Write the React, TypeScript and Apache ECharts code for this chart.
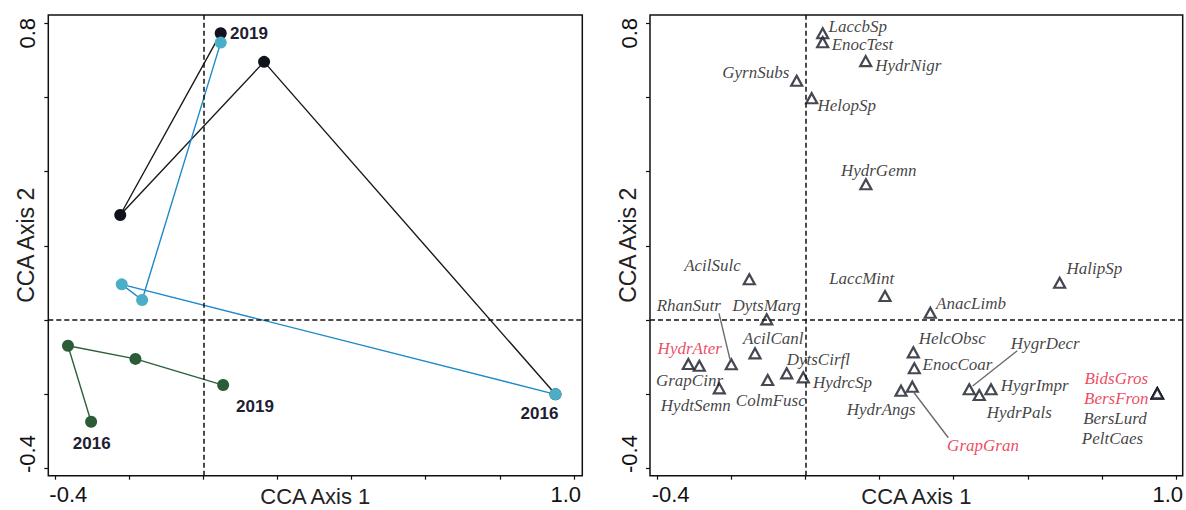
import React, { useEffect, useRef } from 'react';
import * as echarts from 'echarts';

// ---------- Data ----------
const years = ['2016', '2017', '2018', '2019'];
// black trajectory
const siteAAxis1 = [0.95, 0.164, -0.224, 0.047];
const siteAAxis2 = [-0.2005, 0.696, 0.283, 0.773];
// cyan trajectory
const siteBAxis1 = [0.95, -0.22, -0.165, 0.047];
const siteBAxis2 = [-0.2005, 0.096, 0.054, 0.748];
// green trajectory
const siteCAxis1 = [-0.3026, -0.365, -0.183, 0.0535];
const siteCAxis2 = [-0.2745, -0.0695, -0.105, -0.1755];

const species = [
  'LaccbSp', 'EnocTest', 'HydrNigr', 'GyrnSubs', 'HelopSp', 'HydrGemn', 'AcilSulc', 'LaccMint',
  'HalipSp', 'AnacLimb', 'DytsMarg', 'AcilCanl', 'RhanSutr', 'HydrAter', 'GrapCinr', 'HydtSemn',
  'ColmFusc', 'DytsCirfl', 'HydrcSp', 'HydrAngs', 'GrapGran', 'HelcObsc', 'EnocCoar', 'HygrDecr',
  'HydrPals', 'HygrImpr', 'BidsGros', 'BersFron', 'BersLurd', 'PeltCaes',
];
const speciesAxis1 = [
  0.0464, 0.0464, 0.1625, -0.0238, 0.0167, 0.163, -0.1517, 0.2146,
  0.686, 0.3368, -0.1047, -0.1363, -0.2003, -0.3163, -0.2866, -0.2327,
  -0.102, -0.0507, -0.006, 0.2578, 0.2883, 0.291, 0.2937, 0.442,
  0.469, 0.5007, 0.9495, 0.9495, 0.9495, 0.9495,
];
const speciesAxis2 = [
  0.773, 0.749, 0.698, 0.645, 0.598, 0.366, 0.1096, 0.0646,
  0.1004, 0.0195, 0.0017, -0.09, -0.1196, -0.1188, -0.1234, -0.1844,
  -0.162, -0.1439, -0.1547, -0.1908, -0.18, -0.0873, -0.1304, -0.187,
  -0.2024, -0.187, -0.198, -0.198, -0.198, -0.198,
];
const highlightedSpecies = ['HydrAter', 'GrapGran', 'BidsGros', 'BersFron'];

const tickValues = [-0.4, -0.2, 0, 0.2, 0.4, 0.6, 0.8, 1.0];
const xLabelValues = [-0.4, 1.0];
const xLabelTexts = ['-0.4', '1.0'];
const yTickValues = [-0.4, -0.2, 0, 0.2, 0.4, 0.6, 0.8];
const yLabelValues = [-0.4, 0.8];
const yLabelTexts = ['-0.4', '0.8'];

// ---------- Layout (pixel offsets of labels) ----------
const yearLabelLayout: Record<string, Record<string, number[]>> = {
  black: { '2019': [28.3, 0] },
  cyan: { '2016': [-16, 19] },
  green: { '2016': [0.6, 21.6], '2019': [31.9, 21.7] },
};
const speciesLabelOffset: Record<string, number[]> = {
  LaccbSp: [35.1, -7.1], EnocTest: [39.8, 2.4], HydrNigr: [42.5, 4.7], GyrnSubs: [-40.9, -8.2],
  HelopSp: [35, 7.5], HydrGemn: [12.8, -13.6], AcilSulc: [-36.8, -14.3], LaccMint: [-23.3, -17.2],
  HalipSp: [34.7, -14], AnacLimb: [40.7, -9.4], DytsMarg: [0, -13.8], AcilCanl: [18.3, -14.5],
  RhanSutr: [-42.5, -58.8], HydrAter: [1.4, -15.2], GrapCinr: [-9.8, 14.8], HydtSemn: [-23.5, 17.2],
  ColmFusc: [3.1, 20.5], DytsCirfl: [31.6, -13.8], HydrcSp: [39.2, 5.5], HydrAngs: [-19.8, 18.8],
  GrapGran: [70.7, 58.8], HelcObsc: [38.9, -13.5], EnocCoar: [43.2, -4.1], HygrDecr: [76, -45.5],
  HydrPals: [40, 17.8], HygrImpr: [43.7, -4.3], BidsGros: [-41, -14.5], BersFron: [-41, 5.5],
  BersLurd: [-42.3, 24.7], PeltCaes: [-44.8, 45.5],
};
const leaderLayout: Record<string, number[][]> = {
  RhanSutr: [[-12.3, -51], [-1.3, -5]],
  HygrDecr: [[48, -38.6], [3.4, -3.3]],
  GrapGran: [[1, 5], [36, 51]],
};

const SANS = '"Liberation Sans", Arial, sans-serif';
const SERIF = '"Liberation Serif", "Times New Roman", serif';
const AXIS_COLOR = '#111';

function xAxisFor(gridIndex: number, min: number, max: number) {
  return {
    type: 'value', gridIndex, min, max,
    name: 'CCA Axis 1', nameLocation: 'middle', nameGap: 10, nameMoveOverlap: false,
    nameTextStyle: { fontFamily: SANS, fontSize: 22, color: '#222' },
    axisLine: { show: false, onZero: false },
    splitLine: { show: false },
    axisTick: { show: true, customValues: tickValues, length: 4, lineStyle: { color: AXIS_COLOR, width: 1.2 } },
    axisLabel: {
      customValues: xLabelValues, margin: 8,
      formatter: (v: number) => {
        const i = xLabelValues.findIndex((t) => Math.abs(t - v) < 1e-9);
        return `{${i === 0 ? 'first' : 'last'}|${xLabelTexts[i]}}`;
      },
      rich: {
        first: { fontFamily: SANS, fontSize: 22, color: AXIS_COLOR, padding: [0, 0, 0, 26.6] },
        last: { fontFamily: SANS, fontSize: 22, color: AXIS_COLOR, padding: [0, 16.4, 0, 0] },
      },
    },
  };
}

function yAxisFor(gridIndex: number) {
  return {
    type: 'value', gridIndex, min: -0.41996, max: 0.82238,
    name: 'CCA Axis 2', nameLocation: 'middle', nameGap: 11, nameMoveOverlap: false,
    nameTextStyle: { fontFamily: SANS, fontSize: 23, color: '#222' },
    axisLine: { show: false, onZero: false },
    splitLine: { show: false },
    axisTick: { show: true, customValues: yTickValues, length: 4, lineStyle: { color: AXIS_COLOR, width: 1.2 } },
    axisLabel: {
      customValues: yLabelValues, margin: 10, rotate: 90,
      formatter: (v: number) => {
        const i = yLabelValues.findIndex((t) => Math.abs(t - v) < 1e-9);
        return `{${i === 0 ? 'first' : 'last'}|${yLabelTexts[i]}}`;
      },
      rich: {
        first: { fontFamily: SANS, fontSize: 22, color: AXIS_COLOR, padding: [0, 0, 0, 28.6] },
        last: { fontFamily: SANS, fontSize: 22, color: AXIS_COLOR, padding: [0, 20, 0, 0] },
      },
    },
  };
}

const dashedZero = {
  silent: true,
  symbol: ['none', 'none'],
  label: { show: false },
  lineStyle: { color: '#111', type: [5, 3], width: 1.5 },
  data: [{ xAxis: 0 }, { yAxis: 0 }],
};

function trajectory(key: string, ax1: number[], ax2: number[], lineColor: string, dotColor: string, withZero: boolean) {
  const layout = yearLabelLayout[key] || {};
  return {
    type: 'line', xAxisIndex: 0, yAxisIndex: 0,
    symbol: 'circle', symbolSize: 12, showSymbol: true,
    lineStyle: { color: lineColor, width: 1.4 },
    itemStyle: { color: dotColor, borderWidth: 0 },
    emphasis: { disabled: true },
    data: years.map((yr, i) => {
      const off = layout[yr];
      return {
        name: yr,
        value: [ax1[i], ax2[i]],
        label: off
          ? {
              show: true, position: 'inside', offset: off, formatter: yr,
              fontFamily: SANS, fontWeight: 'bold', fontSize: 17, color: '#1d2030',
            }
          : { show: false },
      };
    }),
    markLine: withZero ? dashedZero : undefined,
  };
}

function buildOption() {
  return {
    animation: false,
    backgroundColor: '#ffffff',
    grid: [
      { left: 48.3, top: 15, width: 534, height: 460.7, show: true, borderColor: '#111', borderWidth: 1.5, outerBoundsMode: 'none', containLabel: false },
      { left: 650, top: 15, width: 532.7, height: 460.7, show: true, borderColor: '#111', borderWidth: 1.5, outerBoundsMode: 'none', containLabel: false },
    ],
    xAxis: [xAxisFor(0, -0.41807, 1.02239), xAxisFor(1, -0.4197, 1.0181)],
    yAxis: [yAxisFor(0), yAxisFor(1)],
    series: [
      trajectory('green', siteCAxis1, siteCAxis2, '#2f5f3b', '#2a5c37', true),
      trajectory('black', siteAAxis1, siteAAxis2, '#1a1a1a', '#10131c', false),
      trajectory('cyan', siteBAxis1, siteBAxis2, '#1e88c8', '#4aaec8', false),
      {
        type: 'scatter', xAxisIndex: 1, yAxisIndex: 1,
        symbol: 'triangle', symbolSize: [11, 10],
        itemStyle: { color: '#ffffff', borderColor: '#161926', borderWidth: 2.2 },
        emphasis: { disabled: true },
        data: species.map((name, i) => ({
          name,
          value: [speciesAxis1[i], speciesAxis2[i]],
          label: {
            show: true, position: 'inside', offset: speciesLabelOffset[name], formatter: name,
            fontFamily: SERIF, fontStyle: 'italic', fontSize: 17,
            color: highlightedSpecies.includes(name) ? '#e8173a' : '#0f0f0f',
          },
        })),
        markLine: dashedZero,
      },
    ],
  };
}

export default function App() {
  const ref = useRef<HTMLDivElement>(null);
  useEffect(() => {
    const chart = echarts.init(ref.current!, null, { renderer: 'svg' });
    chart.setOption(buildOption() as any);
    const graphics = Object.keys(leaderLayout).map((name) => {
      const i = species.indexOf(name);
      const p = chart.convertToPixel({ seriesIndex: 3 } as any, [speciesAxis1[i], speciesAxis2[i]]) as number[];
      const [s, e] = leaderLayout[name];
      return {
        type: 'line', silent: true, z: 5,
        shape: { x1: p[0] + s[0], y1: p[1] + s[1], x2: p[0] + e[0], y2: p[1] + e[1] },
        style: { stroke: '#6b6b6b', lineWidth: 1.4 },
      };
    });
    chart.setOption({ graphic: graphics } as any);
    return () => chart.dispose();
  }, []);
  return (
    <div
      ref={ref}
      style={{ position: 'absolute', left: 0, top: 0, width: 1186, height: 510, background: '#fff' }}
    />
  );
}
